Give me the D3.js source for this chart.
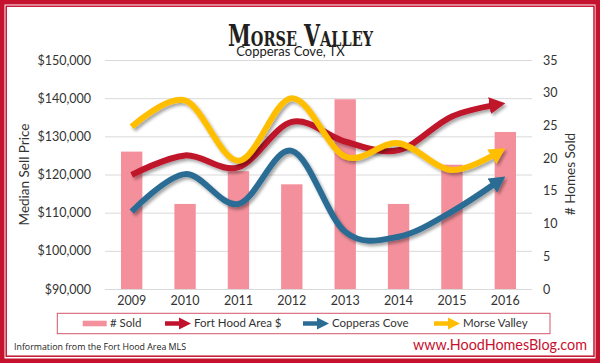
<!DOCTYPE html>
<html>
<head>
<meta charset="utf-8">
<script src="https://cdn.jsdelivr.net/npm/d3@7"></script>
<style>
  body { margin: 0; background: #fff; }
  svg { display: block; font-family: Lato, "Open Sans", sans-serif; }
  .tick text { fill: #333; }
</style>
</head>
<body>
<svg id="chart" width="600" height="363"></svg>
<script>
// data
const years = ["2009", "2010", "2011", "2012", "2013", "2014", "2015", "2016"];
const homesSold = [21, 13, 18, 16, 29, 13, 19, 24];
const fortHood = [119900, 125000, 121900, 133800, 128600, 126400, 135200, 138700];
const copperasCove = [110300, 120100, 112300, 126200, 105000, 103700, 110300, 119500];
const morseValley = [132500, 139400, 123600, 140000, 124700, 128200, 121200, 126900];
const priceTicks = [90000, 100000, 110000, 120000, 130000, 140000, 150000];
const soldTicks = [0, 5, 10, 15, 20, 25, 30, 35];

const series = [
  { name: "Fort Hood Area $", values: fortHood, color: "#c0122c" },
  { name: "Copperas Cove", values: copperasCove, color: "#2b6c94" },
  { name: "Morse Valley", values: morseValley, color: "#ffbe00" }
];

const svg = d3.select("#chart");
const plotL = 105, plotR = 532, plotT = 60, plotB = 289;

// frame
svg.append("rect").attr("width", 600).attr("height", 363).attr("fill", "#fff");
svg.append("rect").attr("x", 2.25).attr("y", 2.25).attr("width", 595.5).attr("height", 358.5)
  .attr("fill", "none").attr("stroke", "#c4122f").attr("stroke-width", 4.5);
svg.append("rect").attr("x", 6.2).attr("y", 6.2).attr("width", 587.8).attr("height", 350)
  .attr("fill", "none").attr("stroke", "#c4122f").attr("stroke-width", 1.5);

const defs = svg.append("defs");
const f = defs.append("filter").attr("id", "shadow")
  .attr("x", "-10%").attr("y", "-10%").attr("width", "130%").attr("height", "140%");
f.append("feDropShadow").attr("dx", 2).attr("dy", 2.5).attr("stdDeviation", 1.4)
  .attr("flood-color", "#000").attr("flood-opacity", 0.35);

series.forEach((s, i) => {
  defs.append("marker").attr("id", "arrow" + i)
    .attr("markerUnits", "userSpaceOnUse")
    .attr("viewBox", "0 0 16 17").attr("markerWidth", 16).attr("markerHeight", 17)
    .attr("refX", 16).attr("refY", 8.5).attr("orient", "auto")
    .append("path").attr("d", "M0,0 L16,8.5 L0,17 Z").attr("fill", s.color);
});

// scales
const x = d3.scaleBand().domain(years).range([plotL, plotR]).paddingInner(0.6).paddingOuter(0.3);
const xc = d => x(d) + x.bandwidth() / 2;
const yL = d3.scaleLinear().domain([90000, 150000]).range([plotB, plotT]);
const yR = d3.scaleLinear().domain([0, 35]).range([plotB, plotT]);

// gridlines
svg.append("g").attr("transform", `translate(${plotL},0)`)
  .call(d3.axisLeft(yL).tickValues(priceTicks).tickSize(-(plotR - plotL)).tickFormat(""))
  .call(g => g.select(".domain").remove())
  .call(g => g.selectAll("line").attr("stroke", "#d9d9d9").attr("stroke-width", 1));

// left axis
svg.append("g").attr("transform", `translate(${plotL},0)`)
  .call(d3.axisLeft(yL).tickValues(priceTicks).tickSize(0).tickPadding(14).tickFormat(d3.format("$,")))
  .call(g => g.select(".domain").remove())
  .call(g => g.selectAll("text").attr("font-size", 12.5).attr("font-family", "Lato"));

// right axis
svg.append("g").attr("transform", `translate(${plotR},0)`)
  .call(d3.axisRight(yR).tickValues(soldTicks).tickSize(0).tickPadding(11))
  .call(g => g.select(".domain").remove())
  .call(g => g.selectAll("text").attr("font-size", 12.5).attr("font-family", "Lato"));

// x axis labels
svg.append("g").attr("transform", `translate(0,${plotB})`)
  .call(d3.axisBottom(x).tickSize(0).tickPadding(7))
  .call(g => g.select(".domain").remove())
  .call(g => g.selectAll("text").attr("font-size", 12.5).attr("font-family", "Lato"));

// axis titles
svg.append("text").attr("transform", "translate(29,174.5) rotate(-90)")
  .attr("text-anchor", "middle").attr("font-size", 13.5).attr("fill", "#333")
  .text("Median Sell Price");
svg.append("text").attr("transform", "translate(575,174) rotate(-90)")
  .attr("text-anchor", "middle").attr("font-size", 13.5).attr("fill", "#333")
  .text("# Homes Sold");

// bars
svg.append("g").selectAll("rect").data(homesSold).join("rect")
  .attr("x", (d, i) => x(years[i]))
  .attr("width", x.bandwidth())
  .attr("y", d => yR(d))
  .attr("height", d => yR(0) - yR(d))
  .attr("fill", "#f4909b");

// lines with arrows
const line = d3.line()
  .x((d, i) => xc(years[i]))
  .y(d => yL(d))
  .curve(d3.curveCardinal.tension(0));

series.forEach((s, i) => {
  const p = svg.append("path")
    .attr("d", line(s.values))
    .attr("fill", "none")
    .attr("stroke", s.color)
    .attr("stroke-width", 6)
    .attr("marker-end", `url(#arrow${i})`)
    .attr("filter", "url(#shadow)");
  const len = p.node().getTotalLength();
  p.attr("stroke-dasharray", `${len - 8},${len}`);
});

// title (small caps, squeezed like the western face)
svg.append("text").attr("x", 300.5).attr("y", 45.5)
  .attr("text-anchor", "middle")
  .attr("font-family", "DejaVu Serif Condensed, DejaVu Serif, serif")
  .attr("font-weight", "bold").attr("fill", "#231f20")
  .attr("font-size", 30).style("font-variant", "small-caps")
  .attr("textLength", 145).attr("lengthAdjust", "spacingAndGlyphs")
  .text("Morse Valley");
svg.append("text").attr("x", 290.5).attr("y", 56).attr("text-anchor", "middle")
  .attr("font-size", 13).attr("fill", "#222").text("Copperas Cove, TX");

// legend
const lg = svg.append("g");
lg.append("rect").attr("x", 57.3).attr("y", 313.3).attr("width", 492.7).attr("height", 20.4)
  .attr("fill", "#fff").attr("stroke", "#d4566a").attr("stroke-width", 1);
const ly = 323.5;
lg.append("rect").attr("x", 82.7).attr("y", ly - 2.8).attr("width", 24).attr("height", 5.6).attr("fill", "#f4909b");
const legendItems = [
  { label: "# Sold", tx: 110 },
  { label: "Fort Hood Area $", tx: 194, ax: 165, color: series[0].color },
  { label: "Copperas Cove", tx: 332, ax: 303, color: series[1].color },
  { label: "Morse Valley", tx: 463, ax: 434, color: series[2].color }
];
legendItems.forEach(it => {
  if (it.color) {
    lg.append("line").attr("x1", it.ax).attr("x2", it.ax + 15).attr("y1", ly).attr("y2", ly)
      .attr("stroke", it.color).attr("stroke-width", 4.5);
    lg.append("path").attr("d", `M${it.ax + 14},${ly - 6} L${it.ax + 26},${ly} L${it.ax + 14},${ly + 6} Z`)
      .attr("fill", it.color);
  }
  lg.append("text").attr("x", it.tx).attr("y", ly + 3.9).attr("font-size", 11.5)
    .attr("fill", "#333").text(it.label);
});

// footer
svg.append("text").attr("x", 14).attr("y", 349.5)
  .attr("font-family", "Open Sans, sans-serif").attr("font-size", 9).attr("fill", "#222")
  .attr("textLength", 172).attr("lengthAdjust", "spacingAndGlyphs")
  .text("Information from the Fort Hood Area MLS");
svg.append("text").attr("x", 587).attr("y", 350).attr("text-anchor", "end")
  .attr("font-size", 15.5).attr("fill", "#c8102e")
  .attr("textLength", 174).attr("lengthAdjust", "spacingAndGlyphs")
  .text("www.HoodHomesBlog.com");
</script>
</body>
</html>
